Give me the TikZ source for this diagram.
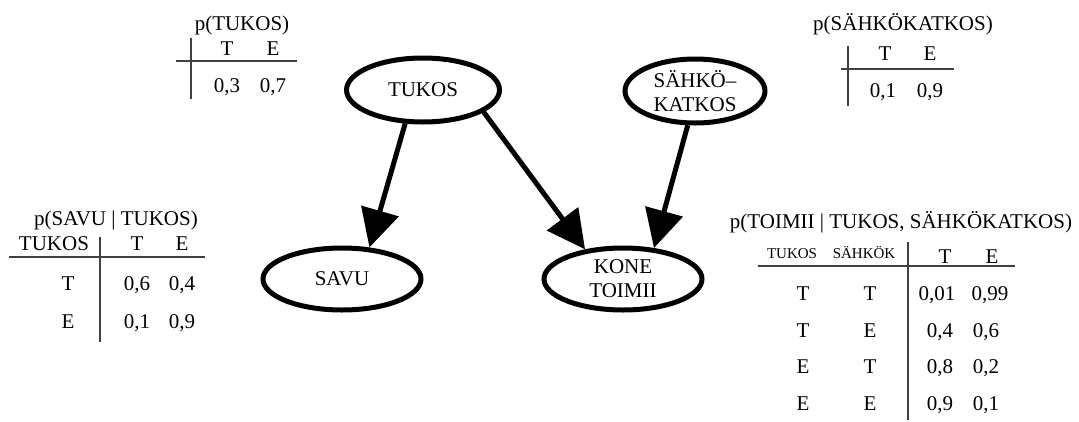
\documentclass[tikz,border=0pt]{standalone}
\usepackage{fontspec}
\setmainfont{Liberation Serif}
\usetikzlibrary{arrows.meta,shapes.geometric}
\begin{document}
\begin{tikzpicture}[x=1pt,y=-1pt,
  varnode/.style={ellipse,draw,line width=5pt,inner sep=0pt,minimum width=153pt,minimum height=64pt,font=\fontsize{21}{24}\selectfont,align=center},
  edge/.style={line width=5pt,-{Triangle[length=38pt,width=38pt]}},
  txt/.style={inner sep=0pt,anchor=base,font=\fontsize{21}{24}\selectfont},
  small/.style={inner sep=0pt,anchor=base,font=\fontsize{15}{17}\selectfont},
  rule/.style={line width=1.3pt,draw=black!75}]
\useasboundingbox (0,0) rectangle (1079,421);
% nodes
\node[varnode] (tukos) at (423,90) {TUKOS};
\node[varnode,minimum width=140pt] (sahko) at (695,91) {SÄHKÖ–\\KATKOS};
\node[varnode,minimum width=158pt,minimum height=62pt] (savu) at (342,279) {SAVU};
\node[varnode,minimum width=158pt,minimum height=62pt] (kone) at (623,279) {KONE\\TOIMII};
% edges
\draw[edge] (tukos.-118) -- (savu.49);
\draw[edge] (tukos.-20) -- (kone.142);
\draw[edge] (sahko.-102) -- (kone.45);
% p(TUKOS)
\node[txt] (t1) at (242,30) {p(TUKOS)};
\node[txt] (t1T) at (227,55) {T};
\node[txt] (t1E) at (273,55) {E};
\node[txt] (t1a) at (227,92) {0,3};
\node[txt] (t1b) at (273,92) {0,7};
\coordinate (t1v1) at (191,38); \coordinate (t1v2) at (191,99);
\coordinate (t1h1) at (176,61); \coordinate (t1h2) at (297,61);
\draw[rule] (t1v1) -- (t1v2);
\draw[rule] (t1h1) -- (t1h2);
% p(SÄHKÖKATKOS)
\node[txt] (t2) at (903,30) {p(SÄHKÖKATKOS)};
\node[txt] (t2T) at (885,60) {T};
\node[txt] (t2E) at (930,60) {E};
\node[txt] (t2a) at (883,97) {0,1};
\node[txt] (t2b) at (930,97) {0,9};
\coordinate (t2v1) at (848,46); \coordinate (t2v2) at (848,106);
\coordinate (t2h1) at (841,69); \coordinate (t2h2) at (954,69);
\draw[rule] (t2v1) -- (t2v2);
\draw[rule] (t2h1) -- (t2h2);
% p(SAVU | TUKOS)
\node[txt] (t3) at (116,225) {p(SAVU | TUKOS)};
\node[txt] (t3h) at (54,250) {TUKOS};
\node[txt] (t3T) at (137,250) {T};
\node[txt] (t3E) at (182,250) {E};
\node[txt] (t3r1) at (68,290) {T};
\node[txt] (t3a) at (137,290) {0,6};
\node[txt] (t3b) at (182,290) {0,4};
\node[txt] (t3r2) at (68,328) {E};
\node[txt] (t3c) at (137,328) {0,1};
\node[txt] (t3d) at (182,328) {0,9};
\coordinate (t3v1) at (100,237); \coordinate (t3v2) at (100,342);
\coordinate (t3h1) at (9,257); \coordinate (t3h2) at (205,257);
\draw[rule] (t3v1) -- (t3v2);
\draw[rule] (t3h1) -- (t3h2);
% p(TOIMII | TUKOS, SÄHKÖKATKOS)
\node[txt] (t4) at (901,228) {p(TOIMII | TUKOS, SÄHKÖKATKOS)};
\node[small] (t4h1) at (792,258) {TUKOS};
\node[small] (t4h2) at (864,258) {SÄHKÖK};
\node[txt] (t4T) at (945,263) {T};
\node[txt] (t4E) at (992,263) {E};
\node[txt] at (803,300) {T};  \node[txt] at (870,300) {T};
\node[txt] at (937,300) {0,01}; \node[txt] at (990,300) {0,99};
\node[txt] at (803,337) {T};  \node[txt] at (870,337) {E};
\node[txt] at (940,337) {0,4}; \node[txt] at (986,337) {0,6};
\node[txt] at (803,373) {E};  \node[txt] at (870,373) {T};
\node[txt] at (940,373) {0,8}; \node[txt] at (986,373) {0,2};
\node[txt] at (803,410) {E};  \node[txt] at (870,410) {E};
\node[txt] at (940,410) {0,9}; \node[txt] at (986,410) {0,1};
\coordinate (t4v1) at (908,242); \coordinate (t4v2) at (908,420);
\coordinate (t4h1) at (758,266); \coordinate (t4h2) at (1015,266);
\draw[rule] (t4v1) -- (t4v2);
\draw[rule] (t4h1) -- (t4h2);
\end{tikzpicture}
\end{document}
